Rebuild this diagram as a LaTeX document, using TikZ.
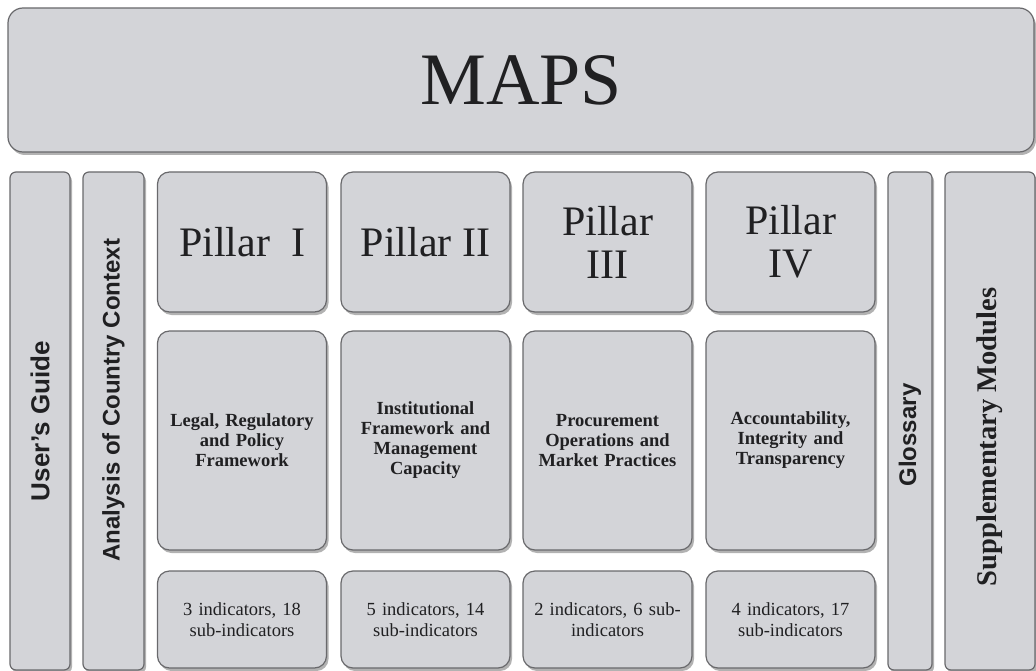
\documentclass[tikz,border=0pt]{standalone}
\usepackage{fontspec}
\setmainfont{Liberation Serif}
\setsansfont{Liberation Sans}
\usetikzlibrary{shadows}
\definecolor{boxfill}{RGB}{211, 212, 216}
\definecolor{boxline}{RGB}{105, 105, 108}
\definecolor{ink}{RGB}{32, 32, 34}

\begin{document}
\begin{tikzpicture}[x=1pt, y=-1pt, text=ink,
    block/.style={rectangle, rounded corners=12pt, draw=boxline, line width=1.2pt, fill=boxfill,
                  drop shadow={shadow xshift=2pt, shadow yshift=-3pt, fill=black, opacity=0.3},
                  inner sep=0pt, align=center},
    column/.style={block, rounded corners=6pt},
    sidetext/.style={rotate=90, font=\sffamily\bfseries\fontsize{24}{26}\selectfont},
    pillar/.style={block, minimum width=169pt, minimum height=140pt, font=\fontsize{42}{43}\selectfont},
    area/.style={block, minimum width=169pt, minimum height=219pt, text width=165pt,
                 font=\bfseries\fontsize{18.5}{20}\selectfont},
    count/.style={block, minimum width=169pt, minimum height=97pt, text width=165pt,
                  font=\fontsize{18.5}{20.5}\selectfont}]
    \useasboundingbox (0,0) rectangle (1036,671);

    % Header
    \node[block, rounded corners=15pt, minimum width=1026pt, minimum height=144pt,
          font=\fontsize{74}{80}\selectfont] (maps) at (521, 80) {MAPS};

    % Side columns
    \node[column, minimum width=60pt, minimum height=498pt] (guide) at (40, 421) {};
    \node[sidetext, font=\sffamily\bfseries\fontsize{26}{28}\selectfont] at (guide) {User's Guide};
    \node[column, minimum width=61pt, minimum height=498pt] (context) at (113.5, 421) {};
    \node[sidetext] at (113.5, 400) {Analysis of Country Context};
    \node[column, minimum width=44pt, minimum height=498pt] (glossary) at (910, 421) {};
    \node[sidetext] at (910, 435) {Glossary};
    \node[column, minimum width=90pt, minimum height=498pt] (modules) at (990, 421) {};
    \node[rotate=90, font=\bfseries\fontsize{28.5}{30}\selectfont] at (990, 437) {Supplementary Modules};

    % Pillars
    \node[pillar] (pil1) at (242, 242) {Pillar\ \ I};
    \node[pillar] (pil2) at (425.5, 242) {Pillar II};
    \node[pillar] (pil3) at (607.5, 242) {Pillar\\III};
    \node[pillar] (pil4) at (790.5, 242) {Pillar\\IV};

    % Assessment areas
    \node[area] (area1) at (242, 440.5) {Legal, Regulatory\\and Policy\\Framework};
    \node[area] (area2) at (425.5, 440.5) {Institutional\\Framework and\\Management\\Capacity};
    \node[area] (area3) at (607.5, 440.5) {Procurement\\Operations and\\Market Practices};
    \node[area] (area4) at (790.5, 440.5) {Accountability,\\Integrity and\\Transparency};

    % Indicator counts
    \node[count] (ind1) at (242, 619.5) {3 indicators, 18\\sub-indicators};
    \node[count] (ind2) at (425.5, 619.5) {5 indicators, 14\\sub-indicators};
    \node[count] (ind3) at (607.5, 619.5) {2 indicators, 6 sub-\\indicators};
    \node[count] (ind4) at (790.5, 619.5) {4 indicators, 17\\sub-indicators};
\end{tikzpicture}
\end{document}
